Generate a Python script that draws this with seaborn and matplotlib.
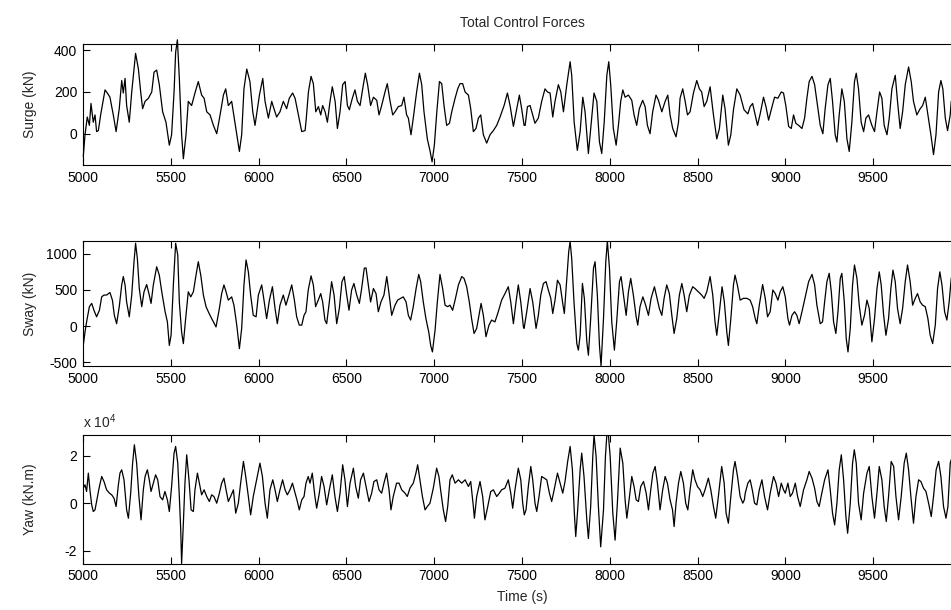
import matplotlib
matplotlib.use("Agg")
import matplotlib.pyplot as plt
import pandas as pd
import seaborn as sns

# ---------------------------------------------------------------- data
surge_time = [
    5002, 5012, 5025, 5037, 5046, 5059, 5069, 5078, 5088, 5101,
    5126, 5139, 5154, 5173, 5189, 5207, 5221, 5230, 5240, 5249,
    5264, 5278, 5300, 5316, 5329, 5340, 5354, 5373, 5392, 5405,
    5420, 5435, 5454, 5473, 5492, 5505, 5519, 5528, 5538, 5549,
    5562, 5572, 5587, 5600, 5619, 5638, 5657, 5676, 5690, 5705,
    5724, 5743, 5762, 5781, 5800, 5813, 5828, 5847, 5866, 5891,
    5904, 5917, 5933, 5951, 5967, 5980, 6005, 6024, 6037, 6056,
    6075, 6084, 6103, 6122, 6141, 6160, 6175, 6194, 6208, 6227,
    6246, 6265,
    6271, 6284, 6299, 6312, 6326, 6341, 6354, 6365, 6379, 6392,
    6407, 6420, 6436, 6449, 6464, 6479, 6493, 6506, 6517, 6534,
    6549, 6563, 6578, 6593, 6608, 6621, 6638, 6654, 6673, 6686,
    6701, 6720, 6733, 6749, 6764, 6777, 6796, 6815, 6828, 6843,
    6853, 6868, 6881, 6900, 6916, 6929, 6942, 6961, 6977, 6988,
    7001, 7015, 7030, 7043, 7056, 7071, 7087, 7100, 7119, 7134,
    7147, 7162, 7176, 7195, 7208, 7223, 7238, 7252, 7265, 7280,
    7299, 7318, 7337, 7356, 7375, 7398, 7417, 7432, 7451, 7470,
    7485, 7498, 7512,
    7518, 7531, 7546, 7561, 7574, 7593, 7612, 7631, 7645, 7660,
    7675, 7688, 7707, 7721, 7736, 7755, 7774, 7783, 7797, 7815,
    7831, 7846, 7859, 7878, 7891, 7910, 7926, 7941, 7954, 7968,
    7983, 7994, 8005, 8020, 8036, 8049, 8062, 8074, 8087, 8106,
    8125, 8138, 8153, 8168, 8187, 8201, 8214, 8229, 8244, 8263,
    8277, 8296, 8315, 8330, 8343, 8358, 8377, 8391, 8400, 8415,
    8429, 8442, 8457, 8476, 8495, 8510, 8523, 8537, 8552, 8571,
    8590, 8609, 8624, 8643, 8656, 8675, 8689, 8704, 8723, 8742,
    8764,
    8786, 8799, 8813, 8828, 8841, 8856, 8875, 8889, 8904, 8919,
    8938, 8957, 8976, 8989, 9002, 9018, 9033, 9046, 9059, 9075,
    9094, 9109, 9122, 9135, 9151, 9166, 9179, 9198, 9213, 9226,
    9242, 9255, 9268, 9283, 9293, 9306, 9321, 9335, 9350, 9363,
    9378, 9393, 9403, 9416, 9431, 9445, 9458, 9473, 9492, 9507,
    9521, 9536, 9549, 9562, 9578, 9591, 9606, 9625, 9638, 9653,
    9667, 9682, 9701, 9716, 9729, 9748, 9767, 9781, 9796, 9811,
    9828, 9843, 9857, 9872, 9885, 9896, 9910, 9923, 9938, 9944,
    9960,
]
surge_kn = [
    -110, -5, 80, 40, 145, 55, 90, 10, 15, 90,
    210, 195, 175, 90, 10, 120, 255, 195, 265, 135,
    55, 200, 385, 310, 200, 120, 155, 170, 200, 295,
    305, 235, 105, 55, -55, -5, 200, 390, 450, 265,
    -5, -120, -5, 155, 135, 195, 250, 185, 170, 105,
    90, 40, 0, 90, 185, 215, 135, 155, 50, -85,
    -5, 215, 310, 250, 105, 40, 185, 265, 155, 75,
    155, 130, 80, 105, 155, 120, 170, 195, 170, 90,
    10, 15,
    65, 200, 275, 240, 105, 130, 90, 135, 105, 55,
    155, 225, 155, 25, 105, 235, 250, 135, 115, 170,
    210, 155, 135, 215, 290, 235, 135, 175, 160, 90,
    135, 200, 240, 155, 90, 105, 130, 135, 175, 90,
    75, -5, 75, 200, 290, 235, 105, -25, -85, -135,
    -55, 105, 250, 240, 135, 40, 50, 105, 170, 215,
    240, 240, 200, 185, 120, 10, 25, 75, 90, -5,
    -45, -5, 15, 40, 80, 135, 195, 135, 35, 120,
    185, 120, 40,
    40, 130, 135, 90, 50, 75, 155, 215, 200, 195,
    80, 155, 235, 200, 105, 235, 345, 280, 55, -80,
    10, 175, 105, -95, 25, 195, 155, -40, -95, 55,
    280, 345, 235, 25, -55, 40, 155, 210, 175, 185,
    160, 90, 40, 120, 160, 130, 40, 0, 105, 185,
    160, 105, 155, 185, 90, 25, -15, 55, 170, 215,
    155, 90, 105, 195, 255, 215, 200, 130, 155, 225,
    90, -25, 25, 185, 120, -55, -5, 115, 215, 185,
    115,
    95, 130, 145, 90, 40, 95, 175, 130, 65, 115,
    175, 170, 200, 195, 135, 35, 25, 90, 50, 40,
    25, 75, 170, 250, 275, 235, 155, 40, 0, 120,
    235, 265, 155, -5, -40, 90, 215, 155, -25, -85,
    55, 250, 290, 215, 55, 10, 75, 90, 40, 10,
    105, 200, 170, 40, -5, 75, 215, 280, 155, 25,
    105, 235, 320, 250, 155, 90, 120, 135, 175, 90,
    -5, -100, -5, 200, 255, 215, 75, 15, 90, 155,
    200,
]

sway_time = [
    5002, 5012, 5021, 5037, 5050, 5063, 5078, 5094, 5107, 5120,
    5135, 5154, 5168, 5179, 5192, 5207, 5221, 5230, 5240, 5249,
    5264, 5278, 5291, 5300, 5310, 5321, 5335, 5348, 5363, 5376,
    5388, 5401, 5420, 5435, 5449, 5468, 5481, 5492, 5502, 5515,
    5528, 5540, 5549, 5562, 5572, 5585, 5600, 5614, 5629, 5644,
    5657, 5671, 5686, 5701, 5714, 5728, 5743, 5758, 5777, 5790,
    5803, 5815, 5828, 5847, 5860, 5876, 5891, 5904, 5917, 5929,
    5942, 5955, 5970, 5986, 5999, 6018, 6031, 6046, 6062, 6079,
    6094, 6107, 6122, 6141, 6156, 6170, 6189, 6204, 6217, 6232,
    6246, 6259,
    6270, 6283, 6299, 6312, 6325, 6340, 6354, 6365, 6378, 6388,
    6403, 6416, 6430, 6445, 6460, 6475, 6488, 6502, 6515, 6530,
    6543, 6559, 6574, 6587, 6602, 6612, 6625, 6638, 6654, 6669,
    6682, 6697, 6714, 6730, 6743, 6758, 6777, 6792, 6809, 6824,
    6840, 6853, 6866, 6881, 6897, 6912, 6923, 6938, 6953, 6969,
    6980, 6990, 7005, 7018, 7033, 7048, 7062, 7077, 7090, 7105,
    7119, 7138, 7157, 7170, 7185, 7200, 7213, 7227, 7242, 7255,
    7267, 7280, 7295, 7312, 7327, 7346, 7365, 7384, 7403, 7422,
    7436, 7451, 7466, 7479, 7493, 7508,
    7512, 7527, 7546, 7561, 7580, 7593, 7607, 7622, 7637, 7650,
    7664, 7675, 7688, 7702, 7717, 7732, 7741, 7755, 7766, 7774,
    7783, 7796, 7812, 7821, 7831, 7844, 7855, 7869, 7878, 7891,
    7907, 7916, 7929, 7941, 7950, 7964, 7977, 7986, 7998, 8011,
    8026, 8039, 8055, 8064, 8077, 8093, 8106, 8119, 8134, 8150,
    8159, 8172, 8188, 8201, 8220, 8235, 8254, 8267, 8282, 8296,
    8309, 8324, 8339, 8353, 8366, 8381, 8396, 8410, 8423, 8438,
    8453, 8472, 8485, 8504, 8523, 8537, 8552, 8571, 8586, 8599,
    8609, 8624, 8639, 8652, 8666, 8675, 8689, 8704, 8713, 8726,
    8742, 8761,
    8780, 8799, 8813, 8828, 8837, 8851, 8870, 8885, 8898, 8913,
    8928, 8942, 8957, 8970, 8985, 8999, 9014, 9023, 9037, 9052,
    9065, 9078, 9094, 9113, 9132, 9151, 9166, 9179, 9198, 9211,
    9223, 9236, 9249, 9261, 9274, 9287, 9299, 9312, 9321, 9335,
    9346, 9356, 9369, 9382, 9393, 9407, 9420, 9435, 9450, 9464,
    9477, 9492, 9507, 9521, 9534, 9545, 9559, 9572, 9587, 9600,
    9612, 9625, 9638, 9653, 9667, 9682, 9695, 9710, 9724, 9739,
    9752, 9767, 9781, 9796, 9811, 9824, 9838, 9853, 9866, 9879,
    9891, 9906, 9919, 9932, 9944, 9960,
]
sway_kn = [
    -265, -80, 60, 270, 315, 220, 130, 220, 405, 430,
    430, 465, 360, 150, 35, 270, 570, 685, 570, 335,
    130, 430, 890, 1145, 935, 520, 270, 475, 575, 450,
    315, 570, 820, 705, 475, 200, 60, -265, -125, 570,
    1145, 985, 335, -80, -240, 105, 475, 405, 475, 705,
    890, 705, 430, 270, 200, 130, 60, -10, 245, 450,
    570, 475, 360, 405, 290, 15, -310, -30, 570, 915,
    750, 430, 150, 130, 430, 570, 360, 105, 360, 545,
    245, 35, 290, 430, 290, 405, 570, 360, 130, 15,
    15, 150,
    200, 500, 695, 570, 270, 360, 450, 335, 85, 35,
    335, 615, 430, 35, 245, 615, 685, 430, 220, 500,
    590, 430, 315, 520, 800, 805, 570, 335, 520, 450,
    200, 335, 430, 685, 450, 150, 290, 360, 385, 405,
    335, 150, 85, 270, 520, 715, 615, 335, 105, -80,
    -265, -355, -55, 335, 715, 520, 290, 270, 290, 220,
    360, 570, 685, 660, 545, 335, 105, -100, -30, 150,
    315, 150, -145, 15, 85, 60, 200, 360, 450, 545,
    335, 35, 335, 570, 335, -10,
    -30, 200, 520, 335, -30, 150, 430, 590, 615, 500,
    385, 175, 360, 635, 570, 315, 175, 660, 1030, 1170,
    935, 335, -240, -330, -125, 590, 385, -215, -400, 105,
    800, 890, 430, -265, -545, 105, 890, 1175, 800, 60,
    -330, 60, 615, 685, 450, 150, 475, 660, 430, 130,
    15, 270, 405, 315, 150, 385, 545, 405, 245, 150,
    385, 570, 450, 150, -100, 105, 430, 590, 430, 200,
    430, 545, 520, 475, 430, 385, 475, 685, 430, 60,
    -125, 200, 545, 335, -80, -265, 105, 570, 705, 570,
    360, 385,
    385, 360, 270, 105, 35, 290, 575, 385, 130, 200,
    500, 450, 360, 475, 545, 405, 105, 15, 150, 200,
    150, 35, 200, 405, 615, 715, 570, 290, 35, 60,
    335, 615, 730, 475, 60, -100, 200, 660, 730, 335,
    -170, -355, -30, 570, 845, 660, 290, 15, 150, 360,
    245, -215, 105, 520, 750, 570, 150, -125, 105, 520,
    775, 615, 245, 35, 245, 615, 845, 615, 290, 385,
    450, 335, 290, 270, 105, -125, -240, 15, 520, 750,
    570, 200, 85, 335, 660, 800,
]

yaw_time = [
    5002, 5012, 5021, 5031, 5040, 5050, 5059, 5069, 5078, 5092,
    5107, 5120, 5135, 5151, 5164, 5177, 5189, 5202, 5211, 5221,
    5234, 5249, 5259, 5272, 5283, 5293, 5306, 5319, 5331, 5344,
    5354, 5367, 5378, 5388, 5401, 5414, 5426, 5439, 5454, 5467,
    5481, 5492, 5505, 5519, 5528, 5540, 5549, 5557, 5562, 5572,
    5581, 5591, 5604, 5616, 5629, 5638, 5652, 5663, 5676, 5690,
    5705, 5720, 5733, 5746, 5762, 5777, 5790, 5803, 5815, 5828,
    5841, 5857, 5870, 5885, 5898, 5914, 5927, 5942, 5955, 5970,
    5989, 6008, 6022, 6037, 6050, 6065, 6081, 6094, 6107, 6122,
    6137, 6151, 6164, 6179, 6193, 6208, 6221, 6232, 6246, 6259,
    6270, 6283, 6293, 6306, 6321, 6331, 6346, 6359, 6373, 6388,
    6403, 6420, 6435, 6449, 6464, 6479, 6492, 6506, 6521, 6540,
    6553, 6568, 6581, 6597, 6612, 6629, 6644, 6657, 6673, 6686,
    6701, 6714, 6729, 6743, 6754, 6767, 6786, 6800, 6815, 6834,
    6847, 6862, 6881, 6896, 6906, 6919, 6933, 6948, 6961, 6976,
    6995, 7014, 7027, 7039, 7052, 7065, 7077, 7090, 7103, 7119,
    7138, 7157, 7176, 7195, 7208, 7223, 7229, 7242, 7261, 7276,
    7289, 7305, 7322, 7337, 7356, 7371, 7384, 7403, 7422, 7436,
    7447, 7460, 7479, 7493, 7504, 7513,
    7523, 7536, 7550, 7561, 7574, 7584, 7597, 7612, 7626, 7641,
    7656, 7669, 7683, 7702, 7717, 7732, 7745, 7760, 7774, 7787,
    7798, 7806, 7817, 7831, 7840, 7853, 7869, 7878, 7891, 7903,
    7910, 7922, 7935, 7948, 7964, 7975, 7983, 7992, 8002, 8017,
    8030, 8043, 8059, 8074, 8087, 8097, 8112, 8125, 8138, 8150,
    8163, 8176, 8192, 8207, 8220, 8233, 8245, 8258, 8271, 8286,
    8301, 8315, 8328, 8343, 8357, 8366, 8377, 8391, 8404, 8419,
    8432, 8444, 8457, 8472, 8485, 8499, 8514, 8529, 8542, 8561,
    8575, 8590, 8603, 8618, 8637, 8651, 8662, 8675, 8689, 8704,
    8713, 8727, 8742, 8757, 8766,
    8771, 8786, 8799, 8813, 8824, 8837, 8851, 8866, 8881, 8898,
    8913, 8932, 8946, 8961, 8976, 8989, 8999, 9014, 9027, 9040,
    9056, 9069, 9084, 9103, 9122, 9135, 9151, 9166, 9179, 9192,
    9207, 9223, 9242, 9255, 9268, 9280, 9293, 9306, 9318, 9331,
    9344, 9354, 9369, 9382, 9392, 9403, 9416, 9431, 9445, 9464,
    9477, 9492, 9507, 9521, 9534, 9549, 9562, 9574, 9587, 9602,
    9616, 9629, 9644, 9659, 9676, 9688, 9701, 9714, 9729, 9743,
    9758, 9771, 9786, 9800, 9815, 9830, 9843, 9858, 9872, 9885,
    9900, 9914, 9925, 9938, 9960,
]
yaw_knm = [
    6300, 7700, 4900, 12600, 5600, -700, -3500, -2800, 700, 6300,
    11200, 9100, 5600, 4200, 3500, 2100, -1400, 7700, 12600, 14000,
    9800, -2800, -6300, 4200, 16800, 24500, 16800, 2800, -7000, 5600,
    11200, 14000, 9800, 4900, 8400, 11900, 9800, 2800, 1400, 4900,
    1400, -3500, 7000, 21000, 23800, 16800, 2800, -11200, -25300, -8400,
    8400, 20300, 9800, -2800, -3500, 5600, 12600, 8400, 3500, 5600,
    2800, 700, 3500, 2800, 0, 4200, 8400, 10500, 5600, 700,
    2800, 5600, -4200, 0, 8400, 17500, 11200, 2800, -4900, 2800,
    9800, 16800, 11200, 0, -6300, 5600, 9800, 5600, 700, 5600,
    9800, 5600, 3500, 5600, 8400, 4200, 700, -2800, 1400, 2800,
    8400, 11200, 8400, 12600, 2800, -2100, 4200, 11200, 7000, -700,
    5600, 11900, 2800, -3500, 4200, 16100, 9800, -1400, 8400, 14700,
    7000, 2100, 9800, 12600, 7000, 700, 4200, 9100, 9800, 5600,
    4200, 8400, 12600, 5600, -2800, 2800, 8400, 8400, 5600, 4200,
    2800, 6300, 8400, 12600, 16100, 9800, 2800, -2800, -1400, 0,
    6300, 14700, 11200, 4200, -2800, -7700, -1400, 9800, 11900, 8400,
    9800, 8400, 9800, 7000, 9100, -1400, -6300, 2800, 9100, 2800,
    -7000, -1400, 4900, 5600, 2800, 4200, 5600, 6300, 9800, 4200,
    -2100, 5600, 14700, 9800, 0, -4900,
    -2800, 7000, 15400, 9800, 0, -3500, 2800, 11200, 10500, 9800,
    4200, 700, 5600, 12600, 8400, 4200, 9100, 17500, 23800, 14000,
    -4200, -14000, -2800, 14000, 21000, 11200, -7000, -14800, -1400, 19600,
    28600, 19600, -1400, -18300, -2800, 19600, 28600, 28600, 19600, -4200,
    -15500, 0, 23100, 16800, 1400, -6300, 2800, 11200, 7000, 1400,
    700, 7000, 9100, 4200, -2800, 5600, 12600, 15400, 8400, -2800,
    5600, 11200, 8400, 1400, -2800, -9800, 0, 8400, 13300, 8400,
    0, -2800, 5600, 14000, 9800, 7000, 5600, 2800, 5600, 10500,
    5600, -1400, -6300, 2800, 15400, 8400, -4200, -8400, 2800, 14000,
    17500, 11200, 2800, 0, 1400,
    4200, 8400, 9800, 4900, 0, -700, 5600, 9800, 2800, -2800,
    4200, 11200, 8400, 2800, 8400, 5600, 4200, 8400, 2800, 4200,
    8400, 2800, -1400, 5600, 9800, 13300, 10500, 6300, 700, -1400,
    4200, 9800, 14000, 5600, -4200, -9100, 0, 14000, 20300, 9800,
    -5600, -12600, 0, 16800, 22400, 16800, 0, -7000, 4200, 12600,
    15400, 2800, -6300, 4200, 15400, 9800, -1400, -7700, 2800, 17500,
    15400, 2800, -7000, 2800, 16800, 21000, 14000, 2800, -8400, 2800,
    9800, 9100, 6300, 4900, 0, -5600, 2800, 14000, 17500, 11200,
    -1400, -6300, -1400, 16800, 22000,
]

time_ticks = [5000, 5500, 6000, 6500, 7000, 7500, 8000, 8500, 9000, 9500]
surge_ticks = [0, 200, 400]
sway_ticks = [-500, 0, 500, 1000]
yaw_ticks = [-2, 0, 2]
yaw_scale = 1e4

# ---------------------------------------------------------------- style
sns.set_style("ticks")
plt.rcParams["font.family"] = ["Liberation Sans", "DejaVu Sans"]
plt.rcParams["font.size"] = 10
plt.rcParams["axes.unicode_minus"] = False
plt.rcParams["mathtext.fontset"] = "custom"
plt.rcParams["mathtext.rm"] = "Liberation Sans"

W, H = 951, 610
fig = plt.figure(figsize=(W / 100, H / 100), dpi=100)
fig.patch.set_facecolor("white")


def add_axes_px(left, top, right, bottom):
    return fig.add_axes([left / W, 1 - bottom / H,
                         (right - left) / W, (bottom - top) / H])


# the time axis runs to 10000 s, slightly past the right edge of the canvas
ax1 = add_axes_px(82.9, 44, 961.1, 165)
ax2 = add_axes_px(82.9, 241, 961.1, 366)
ax3 = add_axes_px(82.9, 435, 961.1, 563.5)

surge_df = pd.DataFrame({"t": surge_time, "v": surge_kn})
sway_df = pd.DataFrame({"t": sway_time, "v": sway_kn})
yaw_df = pd.DataFrame({"t": yaw_time, "v": [v / yaw_scale for v in yaw_knm]})

panels = [
    (ax1, surge_df, (-150, 430), surge_ticks, "Surge (kN)"),
    (ax2, sway_df, (-549, 1176), sway_ticks, "Sway (kN)"),
    (ax3, yaw_df, (-2.53, 2.86), yaw_ticks, "Yaw (kN.m)"),
]

for ax, df, ylim, yticks, ylabel in panels:
    sns.lineplot(data=df, x="t", y="v", ax=ax, color="black",
                 linewidth=0.9, estimator=None, sort=False)
    ax.set_xlim(5000, 10000)
    ax.set_ylim(*ylim)
    ax.set_xticks(time_ticks)
    ax.set_xticklabels([str(t) for t in time_ticks])
    ax.set_yticks(yticks)
    ax.set_yticklabels([str(v) for v in yticks])
    ax.tick_params(direction="in", length=5, width=0.8, top=True,
                   right=True, labelsize=10, pad=4, colors="black")
    for sp in ax.spines.values():
        sp.set_linewidth(0.8)
        sp.set_color("black")
        sp.set_visible(True)
    ax.set_xlabel("")
    ax.set_ylabel(ylabel, fontsize=10)
    ax.yaxis.set_label_coords(-0.052, 0.5)
    ax.set_facecolor("white")

# the surge spike near 5540 s runs past the top of its panel
ax1.lines[0].set_clip_on(False)

ax1.set_title("Total Control Forces", fontsize=10, pad=12)
ax3.set_xlabel("Time (s)", fontsize=10, labelpad=5)
ax3.text(0.0, 1.03, r"x 10$^{4}$", transform=ax3.transAxes,
         ha="left", va="bottom", fontsize=10)

fig.savefig("out.png", dpi=100, facecolor="white")
